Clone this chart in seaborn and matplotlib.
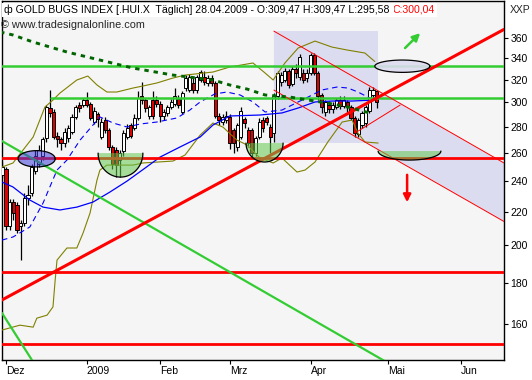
import numpy as np
import matplotlib
matplotlib.use("Agg")
import matplotlib.pyplot as plt
import seaborn as sns
from matplotlib.ticker import NullLocator

# Handelstage ab 01.12.2008 (Index 0); Index -1 = 28.11.2008
kerzen_idx = list(range(-1, 102))
eroeffnung = [244, 248, 211, 226, 224, 211, 213, 229, 232, 247, 252, 258, 271, 295, 292, 273, 270, 267, 271, 276,
              288, 298, 298, 302, 299, 284, 290, 272, 285, 277, 264, 262, 255, 261, 272, 281, 279, 287, 305, 302,
              289, 302, 302, 299, 289, 291, 296, 299, 303, 292, 312, 311, 317, 311, 320, 322, 317, 321, 317, 289,
              284, 285, 288, 277, 264, 272, 286, 277, 277, 260, 272, 285, 287, 280, 275, 305, 318, 320, 328, 316,
              330, 322, 326, 321, 326, 343, 326, 306, 292, 298, 294, 296, 302, 297, 300, 296, 287, 274, 281, 283,
              293, 306, 309.47]
hoch = [253, 250, 228, 228, 226, 215, 232, 237, 252, 262, 266, 272, 298, 311, 294, 276, 272, 279, 281, 290,
        298, 300, 304, 309, 300, 296, 292, 287, 288, 279, 266, 264, 262, 277, 282, 283, 290, 310, 318, 304,
        298, 310, 305, 301, 294, 298, 303, 312, 306, 310, 324, 325, 321, 324, 329, 328, 324, 324, 319, 291,
        290, 293, 290, 279, 283, 296, 288, 280, 279, 273, 287, 288, 289, 282, 308, 328, 327, 331, 330, 333,
        334, 344, 330, 330, 345, 345, 328, 308, 302, 301, 300, 304, 305, 305, 302, 298, 289, 287, 293, 298,
        313, 313, 309.47]
tief = [242, 209, 209, 215, 207, 192, 211, 224, 230, 245, 250, 255, 268, 288, 270, 264, 262, 264, 268, 274,
        286, 292, 296, 296, 285, 282, 280, 270, 275, 262, 248, 243, 243, 258, 270, 271, 277, 285, 299, 292,
        286, 286, 296, 284, 285, 289, 294, 297, 295, 290, 310, 309, 308, 308, 318, 315, 314, 314, 287, 281,
        281, 283, 263, 260, 261, 270, 279, 264, 257, 258, 270, 276, 281, 260, 268, 303, 314, 318, 312, 314,
        321, 320, 317, 318, 324, 324, 302, 291, 289, 291, 291, 294, 294, 295, 292, 285, 272, 272, 279, 280,
        291, 304, 295.58]
schluss = [250, 211, 226, 219, 209, 213, 229, 231, 250, 258, 262, 270, 296, 291, 272, 270, 267, 276, 279, 288,
           296, 295, 302, 298, 287, 293, 286, 284, 277, 264, 252, 251, 260, 275, 279, 273, 287, 304, 302, 295,
           296, 289, 299, 289, 292, 296, 300, 305, 298, 308, 321, 322, 311, 322, 327, 318, 321, 317, 289, 285,
           288, 289, 267, 267, 281, 293, 283, 267, 260, 271, 284, 279, 284, 272, 305, 326, 324, 328, 315, 330,
           326, 341, 320, 326, 343, 326, 305, 296, 300, 294, 298, 302, 297, 302, 296, 287, 275, 285, 291, 296,
           311, 311, 300.04]

# Indikatoren (Index, Kurs)
bb_oben_idx = [-1.1, 1.9, 7.4, 10.6, 12.8, 14.7, 19.3, 22.3, 24.8, 27.5, 30.2, 34.6, 37.3, 41.1, 45.5, 48.8,
               56.4, 61.0, 67.3, 70.6, 72.8, 76.0, 79.6, 84.2, 88.8, 92.9, 97.8, 100.5]
bb_oben = [249.7, 252.6, 271.9, 296.0, 302.0, 308.0, 319.6, 323.2, 315.1, 308.9, 308.9, 312.4, 314.2, 316.9,
           321.4, 324.1, 326.9, 331.6, 335.4, 326.0, 319.6, 335.4, 349.9, 356.9, 350.9, 348.0, 345.0, 336.8]
bb_unten_idx = [-1.1, 3.8, 7.4, 8.4, 11.2, 12.8, 13.4, 13.9, 16.6, 19.3, 21.0, 22.9, 24.8, 25.6, 27.5, 34.6,
                37.3, 45.5, 48.8, 52.9, 56.4, 59.1, 62.9, 65.7, 69.2, 72.8, 75.2, 79.3, 81.5, 84.2, 87.7,
                91.6, 94.3, 95.9, 97.8, 101.4]
bb_unten = [157.3, 159.5, 158.6, 162.7, 164.1, 168.0, 181.3, 191.8, 198.5, 198.5, 207.1, 219.2, 240.7, 247.6,
            251.1, 251.1, 252.6, 254.0, 258.4, 273.4, 282.9, 279.7, 269.6, 265.8, 256.2, 252.6, 256.2, 246.2,
            247.6, 253.3, 268.1, 283.7, 285.3, 275.0, 268.1, 267.3]
ma_lang_idx = [-1.1, 1.9, 6.5, 10.1, 14.7, 19.3, 23.7, 28.3, 33.0, 37.9, 42.0, 47.4, 52.9, 56.4, 61.0, 69.2,
               75.2, 79.6, 84.2, 88.8, 94.3, 100.5]
ma_lang = [239.3, 236.0, 227.4, 222.9, 221.1, 222.9, 226.1, 232.6, 240.0, 249.0, 256.9, 264.3, 271.9, 281.3,
           288.6, 289.4, 291.1, 295.2, 300.3, 301.1, 301.1, 302.0]
ma_kurz_idx = [-1.1, 1.9, 6.5, 10.1, 13.9, 16.6, 20.2, 23.7, 25.6, 29.2, 33.0, 36.5, 41.1, 46.6, 50.1, 52.9,
               56.9, 60.2, 63.8, 67.3, 70.6, 75.2, 79.6, 82.3, 86.1, 90.2, 93.2, 95.9, 98.6, 100.5]
ma_kurz = [203.0, 204.8, 210.7, 225.5, 247.6, 254.7, 269.6, 281.3, 287.8, 282.9, 279.7, 282.1, 283.7, 287.0,
           293.5, 300.3, 307.2, 308.9, 306.3, 300.3, 291.9, 293.5, 300.3, 304.5, 310.7, 313.3, 312.4, 308.9,
           304.5, 302.0]
ma_200_idx = [-1.6, 1.9, 7.4, 16.6, 25.6, 34.6, 45.5, 56.4, 61.0, 65.7, 70.6, 77.4, 82.3, 87.5, 91.8, 94.3,
              97.0, 99.2]
ma_200 = [366.2, 363.1, 355.9, 346.0, 338.2, 330.6, 324.1, 319.6, 315.1, 311.5, 306.3, 304.5, 302.0, 299.4,
          296.9, 295.2, 292.7, 291.1]

# Zeichnungen: waagrechte Linien und Trendlinien
gruen_waagrecht = [332.5, 303.9]
gruen_start = [-1.1, 12.3]
rot_waagrecht = [256.2, 185.3, 151.2]
trend_rot_idx, trend_rot = [-1.1, 135.7], [171.3, 368.9]
trend_gruen_idx, trend_gruen = [-1.1, 103.5], [268.8, 143.8]
trend_gruen2_idx, trend_gruen2 = [-1.1, 7.4], [165.1, 143.7]
kanal_oben_idx, kanal_oben = [73.0, 135.7], [367.1, 252.6]
kanal_unten_idx, kanal_unten = [73.0, 135.7], [310.6, 214.0]
hilfslinie_idx, hilfslinie = [95.1, 107.4], [275.0, 297.7]
zeitraum_idx, zeitraum_kurs = [73.0, 101.4], [267.3, 367.1]

# Ellipsen (links, rechts, oben, unten)
ellipse_blau = (3.3, 13.4, 261.6, 249.8)
ellipse_oben = (100.5, 115.5, 338.2, 326.6)
schalen = [(25.1, 37.3, 259.8, 242.7), (65.4, 75.5, 267.3, 253.3), (101.4, 118.5, 261.3, 254.7)]
pfeil_gruen = [(108.2, 348.0), (113.4, 367.1)]
pfeil_rot = [(109.3, 246.2), (109.3, 224.2)]

monate_idx = [0, 22, 42, 61, 83, 104, 124]
monate = ["Dez", "2009", "Feb", "Mrz", "Apr", "Mai", "Jun"]
kurs_ticks = [160, 180, 200, 220, 240, 260, 280, 300, 320, 340, 360]

GRUEN = "#33CC33"
ROT = "#FF0000"
OLIV = "#808000"
BLAU = "#0000FF"
LAVENDEL = "#DCDCF0"


def ellipse_punkte(x_l, x_r, p_o, p_u, halb=False):
    cx, a = (x_l + x_r) / 2, (x_r - x_l) / 2
    if halb:
        lc, b = np.log(p_o), np.log(p_o) - np.log(p_u)
        t = np.linspace(np.pi, 2 * np.pi, 60)
    else:
        lc, b = (np.log(p_o) + np.log(p_u)) / 2, (np.log(p_o) - np.log(p_u)) / 2
        t = np.linspace(0, 2 * np.pi, 120)
    return cx + a * np.cos(t), np.exp(lc + b * np.sin(t))


sns.set_theme(style="white")
plt.rcParams["font.family"] = ["Liberation Sans", "DejaVu Sans"]

fig = plt.figure(figsize=(5.32, 3.80), dpi=100)
fig.patch.set_facecolor("white")
ax = fig.add_axes([2 / 532, 20 / 380, 502 / 532, 359.5 / 380])
ax.set_facecolor("#F5F5F5")
ax.set_yscale("log")

# Markierter Zeitraum und Trendkanal
ax.fill_between(zeitraum_idx, zeitraum_kurs[0], zeitraum_kurs[1], color=LAVENDEL, lw=0, zorder=0.5)
ax.fill(kanal_oben_idx + kanal_unten_idx[::-1], kanal_oben + kanal_unten[::-1], color=LAVENDEL, lw=0, zorder=0.5)

# Kerzen
x = np.array(kerzen_idx)
o, h, l, c = map(np.array, (eroeffnung, hoch, tief, schluss))
farben = np.where(c >= o, "white", "#DD0000")
ax.vlines(x, l, h, color="black", lw=0.9, zorder=2.9)
unten = np.minimum(o, c)
hoehe = np.maximum(np.abs(c - o), 0.6)
ax.bar(x, hoehe, bottom=unten, width=0.85, color=farben, edgecolor="black", linewidth=0.7, zorder=3)

# Indikatoren
sns.lineplot(x=bb_oben_idx, y=bb_oben, ax=ax, color=OLIV, lw=0.8, sort=False, zorder=3.5)
sns.lineplot(x=bb_unten_idx, y=bb_unten, ax=ax, color=OLIV, lw=0.8, sort=False, zorder=3.5)
sns.lineplot(x=ma_lang_idx, y=ma_lang, ax=ax, color=BLAU, lw=0.9, sort=False, zorder=3.5)
sns.lineplot(x=ma_kurz_idx, y=ma_kurz, ax=ax, color=BLAU, lw=0.8, sort=False, zorder=3.5,
             linestyle=(0, (5, 3.5)))
sns.lineplot(x=ma_200_idx, y=ma_200, ax=ax, color="#006400", lw=2.1, sort=False, zorder=4.5,
             linestyle=(0, (1.5, 1.7)))

# Linien
for wert, start in zip(gruen_waagrecht, gruen_start):
    ax.plot([start, 140], [wert, wert], color=GRUEN, lw=1.8, zorder=4)
for wert in rot_waagrecht:
    ax.axhline(wert, color=ROT, lw=2.0, zorder=4)
ax.plot(trend_rot_idx, trend_rot, color=ROT, lw=2.2, zorder=4.2)
ax.plot(trend_gruen_idx, trend_gruen, color=GRUEN, lw=1.6, zorder=4)
ax.plot(trend_gruen2_idx, trend_gruen2, color=GRUEN, lw=1.6, zorder=4)
ax.plot(kanal_oben_idx, kanal_oben, color=ROT, lw=0.7, zorder=4)
ax.plot(kanal_unten_idx, kanal_unten, color=ROT, lw=0.7, zorder=4)
ax.plot(hilfslinie_idx, hilfslinie, color=ROT, lw=0.7, zorder=4)

# Ellipsen und Schalen
ex, ey = ellipse_punkte(*ellipse_blau)
ax.fill(ex, ey, color="#3C3CDC", alpha=0.55, lw=0, zorder=5)
ax.plot(ex, ey, color="black", lw=0.9, zorder=5.1)
ex, ey = ellipse_punkte(*ellipse_oben)
ax.fill(ex, ey, color=LAVENDEL, alpha=0.9, lw=0, zorder=5)
ax.plot(ex, ey, color="black", lw=0.9, zorder=5.1)
for schale in schalen:
    sx, sy = ellipse_punkte(*schale, halb=True)
    ax.fill(sx, sy, color="#64C850", alpha=0.55, lw=0, zorder=5)
    ax.plot(sx, sy, color="black", lw=0.9, zorder=5.1)

ax.annotate("", xy=pfeil_gruen[1], xytext=pfeil_gruen[0], zorder=6,
            arrowprops=dict(arrowstyle="-|>", color=GRUEN, lw=1.8, mutation_scale=11))
ax.annotate("", xy=pfeil_rot[1], xytext=pfeil_rot[0], zorder=6,
            arrowprops=dict(arrowstyle="-|>", color=ROT, lw=1.8, mutation_scale=11))

# Achsen
ax.set_xlim(-1.09, 135.7)
ax.set_ylim(144.5, 400.4)
ax.yaxis.tick_right()
ax.set_yticks(kurs_ticks)
ax.set_yticklabels([str(v) for v in kurs_ticks])
ax.yaxis.set_minor_locator(NullLocator())
ax.set_xticks(monate_idx)
ax.set_xticklabels(monate, ha="left")
ax.tick_params(axis="both", direction="out", length=3, width=0.8, color="black",
               labelsize=7.5, labelcolor="black", pad=1.5)
ax.tick_params(axis="y", right=True, left=False)
ax.tick_params(axis="x", bottom=True)
for sp in ax.spines.values():
    sp.set_color("black")
    sp.set_linewidth(1.0)
ax.set_xlabel("")
ax.set_ylabel("")

# Kopfzeile
kopf = fig.text(4 / 532, 1 - 10 / 380,
                "\u0444 GOLD BUGS INDEX [.HUI.X  Täglich] 28.04.2009 - O:309,47 H:309,47 L:295,58 ",
                fontsize=7.6, va="center", ha="left", color="black",
                bbox=dict(facecolor="white", edgecolor="none", pad=1.5))
fig.canvas.draw()
ax.annotate("C:300,04", xy=(1, 0.5), xycoords=kopf, va="center", ha="left", fontsize=7.6,
            color=ROT, bbox=dict(facecolor="white", edgecolor="none", pad=1.5), annotation_clip=False)
fig.text(1 / 532, 1 - 25 / 380, "\u00a9 www.tradesignalonline.com", fontsize=7.8, va="center", ha="left")
fig.text(510 / 532, 1 - 10 / 380, "XXP", fontsize=7.5, va="center", ha="left")

fig.savefig("out.png", dpi=100)
